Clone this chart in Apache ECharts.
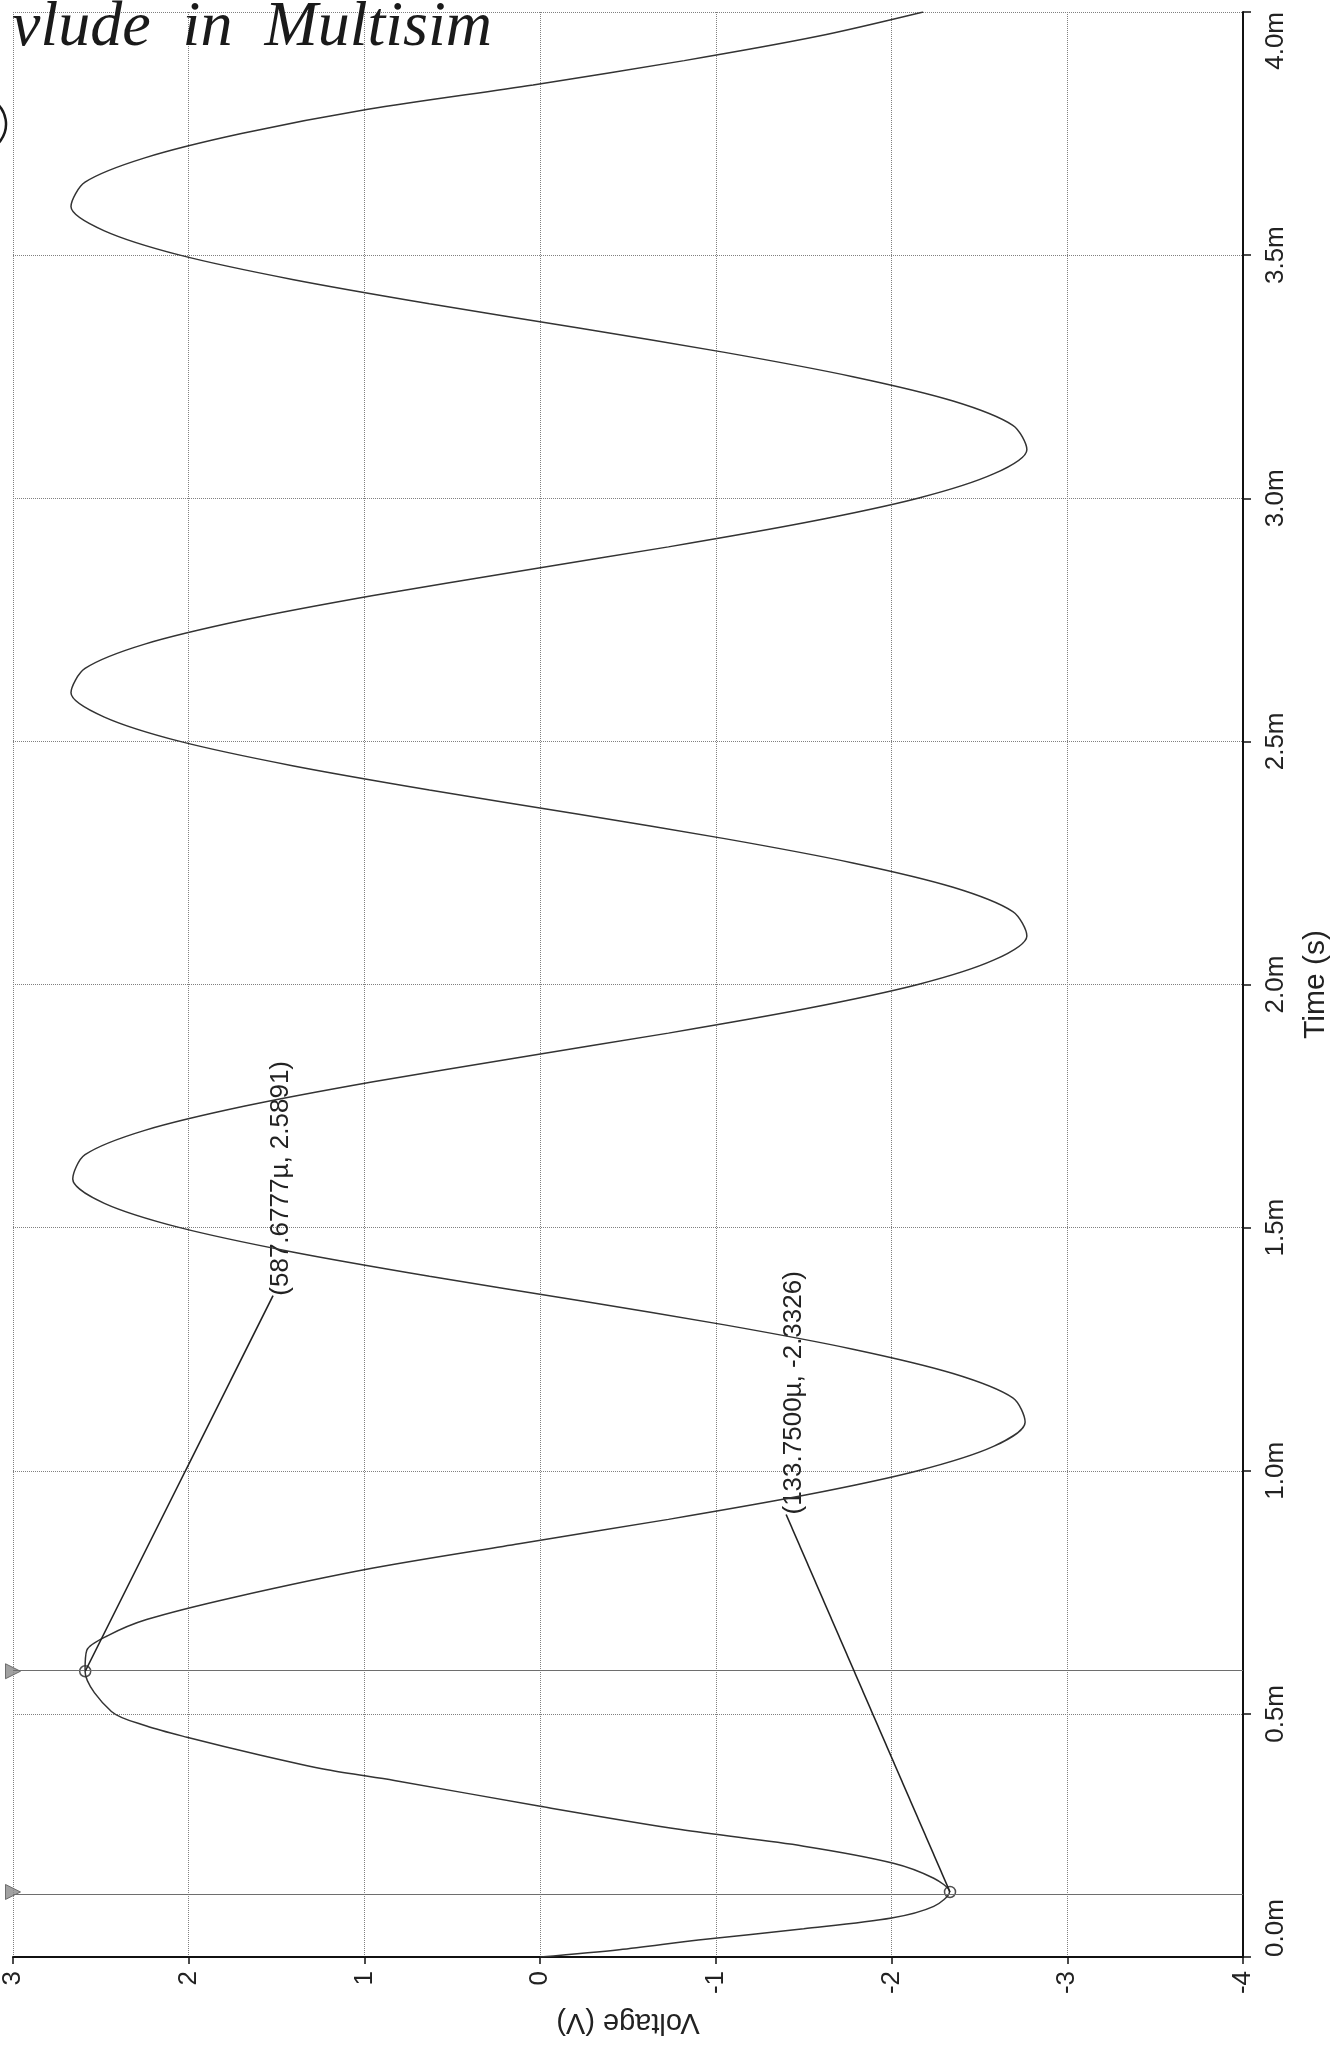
<!DOCTYPE html>
<html>
<head>
<meta charset="utf-8">
<title>Voltage vs Time</title>
<script src="https://cdn.jsdelivr.net/npm/echarts@6.0.0/dist/echarts.min.js"></script>
<style>
html,body{margin:0;padding:0;background:#fff;}
#chart{width:1339px;height:2049px;}
</style>
</head>
<body>
<div id="chart"></div>
<script>
// trace: time in ms, voltage in V
var timeMs = [0, 0.015, 0.035, 0.058, 0.08, 0.104, 0.134, 0.162, 0.193, 0.228, 0.262, 0.31,
    0.363, 0.385, 0.415, 0.452, 0.475, 0.505, 0.588, 0.631, 0.661, 0.694, 0.74,
    0.80, 0.85, 0.90, 0.95, 1.00, 1.05, 1.10, 1.15, 1.20, 1.25, 1.30, 1.35, 1.40, 1.45, 1.50, 1.55,
    1.60, 1.65, 1.70, 1.75, 1.80, 1.85, 1.90, 1.95, 2.00, 2.05, 2.10, 2.15, 2.20, 2.25, 2.30, 2.35,
    2.40, 2.45, 2.50, 2.55, 2.60, 2.65, 2.70, 2.75, 2.80, 2.85, 2.90, 2.95, 3.00, 3.05, 3.10, 3.15,
    3.20, 3.25, 3.30, 3.35, 3.40, 3.45, 3.50, 3.55, 3.60, 3.65, 3.70, 3.75, 3.80, 3.85, 3.90, 3.95, 4.00];
var voltage = [0, -0.45, -0.9, -1.5, -2.0, -2.24, -2.33, -2.24, -2.01, -1.5, -0.8, 0.0,
    0.83, 1.21, 1.59, 2.01, 2.24, 2.44, 2.59, 2.58, 2.46, 2.24, 1.74,
    0.95, 0.12, -0.73, -1.51, -2.15, -2.58, -2.76, -2.69, -2.35, -1.78, -1.05, -0.22, 0.63, 1.41, 2.05, 2.48,
    2.66, 2.59, 2.25, 1.68, 0.95, 0.12, -0.73, -1.51, -2.15, -2.58, -2.77, -2.69, -2.35, -1.78, -1.05, -0.22,
    0.63, 1.41, 2.05, 2.48, 2.67, 2.59, 2.25, 1.68, 0.95, 0.12, -0.73, -1.51, -2.15, -2.58, -2.77, -2.69,
    -2.35, -1.78, -1.05, -0.22, 0.63, 1.41, 2.05, 2.48, 2.67, 2.59, 2.25, 1.70, 0.98, 0.04, -0.82, -1.58, -2.18];

// cursor readouts
var cursorTime = [0.58768, 0.13375];
var cursorVolt = [2.5891, -2.3326];
var cursorText = ['(587.6777µ, 2.5891)', '(133.7500µ, -2.3326)'];
// end of each leader line (V, ms) - the readout text starts here
var leaderEnd = [[1.52, 1.36], [-1.40, 0.91]];

var fontName = '"Liberation Sans", Arial, sans-serif';

var trace = [];
for (var i = 0; i < timeMs.length; i++) {
    trace.push([voltage[i], timeMs[i]]);
}
var cursorPts = [];
var cursorFlags = [];
var markData = [];
for (var k = 0; k < cursorTime.length; k++) {
    cursorPts.push([cursorVolt[k], cursorTime[k]]);
    cursorFlags.push([3, cursorTime[k]]);
    markData.push({yAxis: cursorTime[k], lineStyle: {color: '#6e6e6e', width: 1.2, type: 'solid'}});
    markData.push([
        {coord: [cursorVolt[k], cursorTime[k]], lineStyle: {color: '#222', width: 1.6, type: 'solid'}},
        {coord: leaderEnd[k]}
    ]);
}

var chart = echarts.init(document.getElementById('chart'));
var option = {
    backgroundColor: '#fff',
    animation: false,
    grid: {left: 13, right: 96, top: 12, bottom: 92, outerBoundsMode: 'none'},
    xAxis: {
        type: 'value',
        min: -4,
        max: 3,
        interval: 1,
        inverse: true,
        name: 'Voltage (V)',
        nameLocation: 'middle',
        nameGap: 50,
        nameRotate: 180,
        nameTextStyle: {fontFamily: fontName, fontSize: 29, color: '#222'},
        axisLine: {show: true, onZero: false, lineStyle: {color: '#111', width: 2}},
        axisTick: {show: true, length: 7, lineStyle: {color: '#111', width: 1.5}},
        axisLabel: {rotate: 90, margin: 14, fontFamily: fontName, fontSize: 26, color: '#222'},
        splitLine: {show: true, lineStyle: {color: '#808080', type: 'dotted', width: 1}}
    },
    yAxis: {
        type: 'value',
        position: 'right',
        min: 0,
        max: 4,
        interval: 0.5,
        name: 'Time (s)',
        nameLocation: 'middle',
        nameGap: 58,
        nameRotate: 90,
        nameTextStyle: {fontFamily: fontName, fontSize: 30, color: '#222'},
        axisLine: {show: true, onZero: false, lineStyle: {color: '#111', width: 2}},
        axisTick: {show: true, length: 8, lineStyle: {color: '#111', width: 1.5}},
        axisLabel: {
            rotate: 90,
            margin: 20,
            fontFamily: fontName,
            fontSize: 26,
            color: '#222',
            alignMinLabel: 'left',
            alignMaxLabel: 'right',
            formatter: function (v) { return v.toFixed(1) + 'm'; }
        },
        splitLine: {show: true, lineStyle: {color: '#808080', type: 'dotted', width: 1}}
    },
    series: [
        {
            type: 'line',
            data: trace,
            symbol: 'none',
            smooth: 0.3,
            lineStyle: {color: '#333', width: 1.5},
            markLine: {
                silent: true,
                symbol: ['none', 'none'],
                label: {show: false},
                data: markData
            }
        },
        {
            type: 'scatter',
            data: cursorPts,
            symbol: 'circle',
            symbolSize: 11,
            itemStyle: {color: 'rgba(0,0,0,0)', borderColor: '#222', borderWidth: 1.5}
        },
        {
            type: 'scatter',
            data: cursorFlags,
            clip: false,
            symbol: 'triangle',
            symbolRotate: -90,
            symbolSize: 15,
            itemStyle: {color: '#8a8a8a', borderColor: '#555', borderWidth: 1}
        }
    ]
};
chart.setOption(option);

// readout texts + handwriting on the printout
function addNotes() {
    var g = [];
    for (var k = 0; k < cursorText.length; k++) {
        var p = chart.convertToPixel({gridIndex: 0}, leaderEnd[k]);
        g.push({
            type: 'text',
            x: p[0] + 8,
            y: p[1],
            rotation: Math.PI / 2,
            style: {text: cursorText[k], font: '26px ' + fontName, fill: '#222', align: 'left', verticalAlign: 'middle'}
        });
    }
    g.push({
        type: 'text', left: 12, top: -4,
        style: {text: 'vlude  in  Multisim', font: 'italic 64px "Liberation Serif", serif', fill: '#1a1a1a'}
    });
    // edge of a circled mark cut off by the scan
    g.push({
        type: 'arc',
        shape: {cx: -22, cy: 124, r: 28, startAngle: -0.95, endAngle: 0.95},
        style: {stroke: '#1a1a1a', lineWidth: 2.5, fill: 'none'}
    });
    chart.setOption({graphic: g});
}
addNotes();
</script>
</body>
</html>
